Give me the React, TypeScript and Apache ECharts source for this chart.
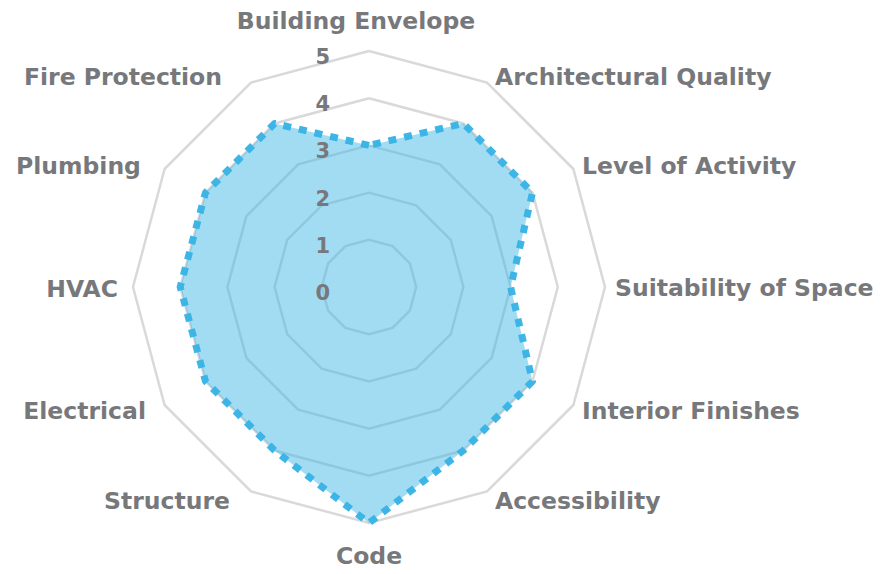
import React, { useEffect, useRef } from "react";
import * as echarts from "echarts";

// Categories listed clockwise from the top
const CATEGORIES = [
  "Building Envelope",
  "Architectural Quality",
  "Level of Activity",
  "Suitability of Space",
  "Interior Finishes",
  "Accessibility",
  "Code",
  "Structure",
  "Electrical",
  "HVAC",
  "Plumbing",
  "Fire Protection",
];
const VALUES = [3, 4, 4, 3, 4, 4, 5, 4, 4, 4, 4, 4];
const MAX_VALUE = 5;
const TICK_STEP = 1;

const TEXT_COLOR = "#77787b";
const FONT = "'DejaVu Sans', 'Open Sans', sans-serif";
const NAME_SIZE = 23.5;

// extra padding per label [top, right, bottom, left]
const NAME_PADDING: Record<string, number[]> = {
  "Building Envelope": [0, 26, 8, 0],
  "Architectural Quality": [6, 0, 0, 3],
  "Level of Activity": [4, 0, 0, 0],
  "Suitability of Space": [2, 0, 0, 0],
  "Interior Finishes": [2, 0, 0, 0],
  "Accessibility": [2, 0, 0, 3],
  "Code": [11, 0, 0, 0],
  "Structure": [2, 16, 0, 0],
  "Electrical": [2, 10, 0, 0],
  "HVAC": [4, 5, 0, 0],
  "Plumbing": [4, 15, 0, 0],
  "Fire Protection": [6, 24, 0, 0],
};

export default function App() {
  const ref = useRef<HTMLDivElement>(null);
  useEffect(() => {
    if (!ref.current) return;
    const chart = echarts.init(ref.current, undefined, { renderer: "svg" });
    // ECharts lays indicators counter-clockwise; reorder so they read clockwise
    const order = [0, ...CATEGORIES.map((_, i) => i).slice(1).reverse()];
    const indicators = order.map((i) => ({ name: CATEGORIES[i], max: MAX_VALUE, min: 0 }));
    const data = order.map((i) => VALUES[i]);

    const rich: Record<string, any> = {};
    const keyOf: Record<string, string> = {};
    CATEGORIES.forEach((c, i) => {
      const k = "n" + i;
      keyOf[c] = k;
      rich[k] = {
        fontFamily: FONT,
        fontSize: NAME_SIZE,
        fontWeight: "bold",
        color: TEXT_COLOR,
        padding: NAME_PADDING[c] || [0, 0, 0, 0],
      };
    });

    const center = [369, 287];
    const radius = 236;

    chart.setOption({
      animation: false,
      backgroundColor: "#ffffff",
      radar: {
        center,
        radius,
        startAngle: 90,
        shape: "polygon",
        splitNumber: MAX_VALUE / TICK_STEP,
        indicator: indicators,
        axisName: {
          fontFamily: FONT,
          fontSize: NAME_SIZE,
          fontWeight: "bold",
          color: TEXT_COLOR,
          formatter: (name: string) => `{${keyOf[name]}|${name}}`,
          rich,
        },
        nameGap: 10,
        axisLine: { show: false },
        axisTick: { show: false },
        axisLabel: { show: false },
        splitArea: { show: false },
        splitLine: { lineStyle: { color: "#d9d9d9", width: 2.5 } },
      },
      polar: { center, radius },
      angleAxis: {
        show: false,
        startAngle: 90,
        min: 0,
        max: 360,
      },
      radiusAxis: {
        type: "value",
        min: 0,
        max: MAX_VALUE,
        interval: TICK_STEP,
        z: 10,
        axisLine: { show: false },
        axisTick: { show: false },
        splitLine: { show: false },
        axisLabel: {
          margin: 39,
          verticalAlign: "middle",
          formatter: (v: number) => `{t|${v}}`,
          rich: {
            t: {
              fontFamily: FONT,
              fontSize: 21,
              fontWeight: "bold",
              color: TEXT_COLOR,
              padding: [12, 0, 0, 0],
            },
          },
        },
      },
      series: [
        {
          type: "radar",
          symbol: "none",
          z: 2,
          lineStyle: { color: "#3db5e6", width: 7, type: [8, 8], cap: "butt" },
          areaStyle: { color: "#3db5e6", opacity: 0.48 },
          data: [{ value: data, name: "Score" }],
        },
      ],
    });
    return () => chart.dispose();
  }, []);
  return (
    <div
      ref={ref}
      style={{ position: "fixed", left: 0, top: 0, width: 894, height: 574 }}
    />
  );
}
